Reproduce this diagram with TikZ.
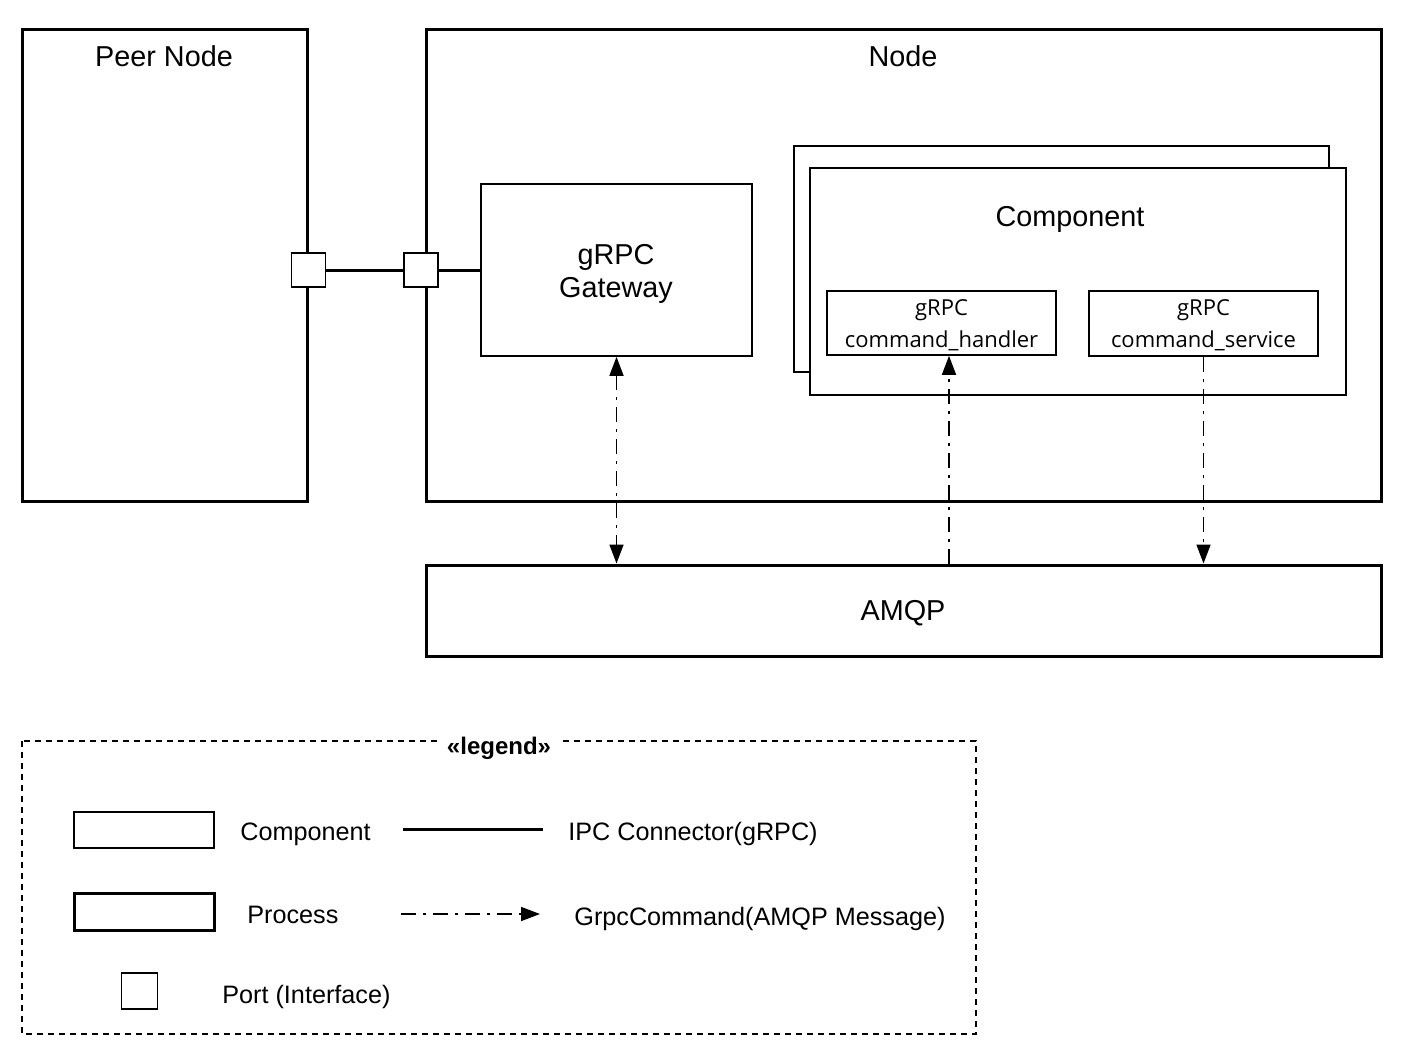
\documentclass[tikz,border=0pt]{standalone}
\usepackage{fontspec}
\setmainfont{Liberation Sans}
\newfontfamily\osans{Open Sans}
\usetikzlibrary{positioning}
\usetikzlibrary{calc}
\usetikzlibrary{arrows.meta}

\tikzset{
  process/.style={draw, line width=1.5pt, minimum width=#1},
  compbox/.style={draw, fill=white, line width=0.8pt},
  portbox/.style={draw, fill=white, line width=0.9pt, minimum width=17pt, minimum height=17pt, inner sep=0pt},
  title/.style={font=\fontsize{14.4}{16.5}\selectfont, align=center, inner sep=0pt},
  inner/.style={font=\osans\fontsize{11}{16}\selectfont, align=center, inner sep=0pt},
  legtext/.style={font=\fontsize{12.6}{15}\selectfont, anchor=west, inner sep=0pt},
  ipc/.style={line width=1.5pt},
  cmd/.style={line width=0.8pt, dash pattern=on 7.5pt off 3.5pt on 1.5pt off 3.5pt, -{Triangle[width=7pt,length=9.5pt]}}
}

\begin{document}
\begin{tikzpicture}[x=0.5pt, y=-0.5pt]
      \useasboundingbox (0,0) rectangle (1418,1062);
      % processes
      \node [process, minimum width=142.5pt, minimum height=236pt] (peer) at (164.5,265) {};
      \node [title] (peertitle) at (164,56) {Peer Node};
      \node [process, minimum width=477.5pt, minimum height=236pt] (node) at (903.5,265) {};
      \node [title] (nodetitle) at (903,56) {Node};
      \node [process, minimum width=477.5pt, minimum height=45.5pt] (amqp) at (903.5,610.5) {};
      \node [title] (amqptitle) at (903,613) {AMQP};
      % gateway
      \node [compbox, minimum width=135.5pt, minimum height=86pt] (gateway) at (616.5,270) {};
      \node [title] (gwtext) at (616,274) {gRPC\\Gateway};
      % component (stacked)
      \node [compbox, minimum width=267.5pt, minimum height=113pt] (compback) at (1061.5,259) {};
      \node [compbox, minimum width=268pt, minimum height=113.5pt] (comp) at (1078,281.5) {};
      \node [title] (comptitle) at (1070,219) {Component};
      \node [compbox, minimum width=114.5pt, minimum height=32pt, inner sep=0pt] (handler) at (941.5,323) {};
      \node [inner] (handlertext) at (941.5,325) {gRPC\\command\_handler};
      \node [compbox, minimum width=114.5pt, minimum height=32.5pt, inner sep=0pt] (service) at (1203.5,323.5) {};
      \node [inner] (servicetext) at (1203.5,325.5) {gRPC\\command\_service};
      % ports
      \node [portbox] (peerport) at (308.5,270) {};
      \node [portbox] (nodeport) at (421,270) {};
      \draw [ipc] (peerport.east) -- (nodeport.west);
      \draw [ipc] (nodeport.east) -- (gateway.west);
      % amqp messages
      \draw [cmd, {Triangle[width=7pt,length=9.5pt]}-{Triangle[width=7pt,length=9.5pt]}] (gateway.south) -- (gateway.south |- amqp.north);
      \coordinate (hbase) at ($(handler.south)+(7.5,0)$);
      \draw [cmd] (hbase |- amqp.north) -- (hbase);
      \draw [cmd] (service.south) -- (service.south |- amqp.north);
      % legend
      \draw [line width=0.75pt, dash pattern=on 3pt off 2.5pt] (22,741) rectangle (976,1034);
      \node [fill=white, inner sep=5pt, font=\bfseries\fontsize{12}{14}\selectfont] (legtitle) at (499,748) {«legend»};
      \node [draw, line width=0.8pt, minimum width=70pt, minimum height=18pt] (compleg) at (144,830) {};
      \node [legtext] (compname) at (240,834) {Component};
      \node [draw, line width=1.5pt, minimum width=70pt, minimum height=18.5pt] (procleg) at (144,911.5) {};
      \node [legtext] (procname) at (247,915) {Process};
      \node [portbox, minimum width=18pt, minimum height=18pt] (portleg) at (139.5,991) {};
      \node [legtext] (portname) at (222,997) {Port (Interface)};
      \coordinate (ipcA) at (403,829);
      \coordinate (ipcB) at (543,829);
      \draw [ipc] (ipcA) -- (ipcB);
      \node [legtext] (ipcname) at (568,834) {IPC Connector(gRPC)};
      \coordinate (cmdA) at (401,914);
      \coordinate (cmdB) at (540,914);
      \draw [cmd] (cmdA) -- (cmdB);
      \node [legtext] (cmdname) at (574,919) {GrpcCommand(AMQP Message)};
\end{tikzpicture}
\end{document}
